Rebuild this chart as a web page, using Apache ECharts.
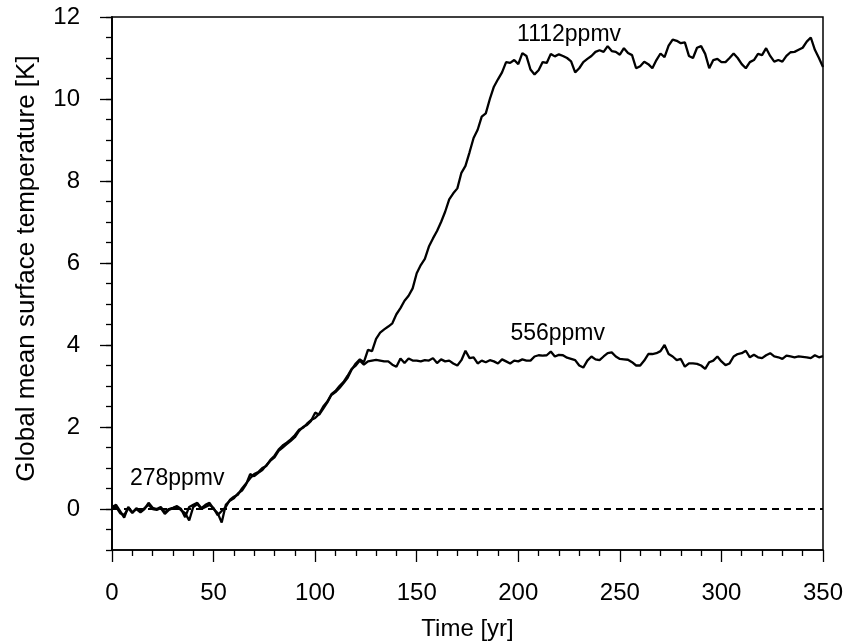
<!DOCTYPE html>
<html>
<head>
<meta charset="utf-8">
<script src="https://cdn.jsdelivr.net/npm/echarts@6/dist/echarts.min.js"></script>
<style>
html,body{margin:0;padding:0;background:#fff;}
#chart{width:846px;height:641px;}
</style>
</head>
<body>
<div id="chart"></div>
<script>
// ---- data (years every 2 yr, 0..350) ----
const yearStep = 2;
const temp1112 = [
 0.05, 0.1, -0.05, -0.21, 0.05, -0.08, 0.0, -0.08, 0.0, 0.15,
 0.03, 0.0, 0.05, -0.08, 0.0, 0.03, 0.07, 0.0, -0.2, 0.05,
 0.1, 0.15, 0.02, 0.1, 0.15, 0.0, -0.1, -0.33, 0.1, 0.2,
 0.26, 0.38, 0.45, 0.6, 0.85, 0.8, 0.88, 0.95, 1.07, 1.18,
 1.26, 1.42, 1.5, 1.58, 1.66, 1.75, 1.9, 2.0, 2.05, 2.15,
 2.35, 2.3, 2.45, 2.6, 2.78, 2.85, 2.95, 3.07, 3.2, 3.4,
 3.55, 3.65, 3.58, 3.88, 3.85, 4.15, 4.3, 4.38, 4.45, 4.53,
 4.75, 4.9, 5.08, 5.2, 5.38, 5.75, 5.95, 6.1, 6.4, 6.6,
 6.78, 7.0, 7.25, 7.55, 7.7, 7.82, 8.2, 8.37, 8.7, 9.05,
 9.25, 9.57, 9.65, 10.0, 10.3, 10.48, 10.65, 10.9, 10.88, 10.95,
 10.85, 11.12, 11.05, 10.72, 10.6, 10.7, 10.9, 10.88, 11.1, 11.04,
 11.09, 11.05, 11.0, 10.92, 10.65, 10.75, 10.9, 10.98, 11.05, 11.15,
 11.19, 11.15, 11.29, 11.17, 11.15, 11.08, 11.24, 11.12, 11.07, 10.75,
 10.8, 10.91, 10.85, 10.75, 10.95, 11.11, 11.02, 11.3, 11.45, 11.42,
 11.36, 11.38, 11.05, 11.0, 11.25, 11.29, 11.1, 10.75, 10.95, 10.98,
 10.9, 10.9, 11.0, 11.11, 11.0, 10.85, 10.75, 10.9, 10.95, 11.1,
 11.07, 11.24, 11.05, 10.91, 10.95, 10.91, 11.05, 11.14, 11.15, 11.2,
 11.25, 11.4, 11.5, 11.2, 11.0, 10.78
];
const temp556 = [
 0.03, 0.05, -0.1, -0.15, 0.02, -0.1, 0.02, -0.05, 0.02, 0.1,
 0.0, -0.02, 0.02, -0.12, -0.02, 0.02, 0.05, -0.03, -0.1, -0.28,
 0.05, 0.12, 0.0, 0.05, 0.1, 0.02, -0.15, -0.05, 0.05, 0.22,
 0.3, 0.35, 0.5, 0.62, 0.75, 0.85, 0.9, 1.0, 1.05, 1.2,
 1.3, 1.45, 1.55, 1.62, 1.7, 1.8, 1.93, 1.98, 2.08, 2.17,
 2.22, 2.32, 2.5, 2.62, 2.8, 2.88, 3.0, 3.1, 3.25, 3.42,
 3.5, 3.62, 3.52, 3.6, 3.62, 3.64, 3.62, 3.6, 3.6, 3.52,
 3.47, 3.67, 3.56, 3.67, 3.62, 3.62, 3.6, 3.63, 3.62, 3.68,
 3.56, 3.65, 3.6, 3.62, 3.55, 3.5, 3.63, 3.86, 3.68, 3.7,
 3.55, 3.62, 3.58, 3.63, 3.6, 3.55, 3.65, 3.6, 3.55, 3.62,
 3.6, 3.65, 3.62, 3.62, 3.72, 3.75, 3.74, 3.75, 3.84, 3.72,
 3.76, 3.75, 3.69, 3.66, 3.63, 3.5, 3.45, 3.62, 3.72, 3.65,
 3.63, 3.72, 3.8, 3.82, 3.72, 3.66, 3.65, 3.64, 3.58, 3.5,
 3.5, 3.62, 3.78, 3.78, 3.8, 3.85, 4.0, 3.78, 3.72, 3.63,
 3.66, 3.47, 3.55, 3.55, 3.54, 3.5, 3.42, 3.58, 3.62, 3.72,
 3.6, 3.51, 3.55, 3.72, 3.78, 3.8, 3.86, 3.7, 3.76, 3.7,
 3.68, 3.75, 3.8, 3.72, 3.7, 3.66, 3.74, 3.72, 3.7, 3.72,
 3.71, 3.7, 3.68, 3.75, 3.7, 3.73
];
const controlLevel = 0;           // 278 ppmv reference (dashed)
const seriesNames = ['1112ppmv', '556ppmv', '278ppmv'];
const xTickLabels = [0, 50, 100, 150, 200, 250, 300, 350];
const yTickLabels = [0, 2, 4, 6, 8, 10, 12];

// ---- build ----
const years = temp1112.map((_, i) => i * yearStep);
const d1112 = years.map((y, i) => [y, temp1112[i]]);
const d556 = years.map((y, i) => [y, temp556[i]]);

const FONT = '"Liberation Sans", Arial, Helvetica, sans-serif';
const chart = echarts.init(document.getElementById('chart'), null, {renderer: 'canvas'});

const lineStyle = {color: '#000', width: 2.3};
const option = {
  animation: false,
  backgroundColor: '#fff',
  textStyle: {fontFamily: FONT, color: '#000'},
  grid: {left: 112, right: 23, top: 17, bottom: 91, show: true, containLabel: false,
         outerBoundsMode: 'none',
         borderColor: '#000', borderWidth: 1.5, backgroundColor: 'transparent'},
  xAxis: {
    type: 'value', min: 0, max: 350, interval: 50,
    name: 'Time [yr]', nameLocation: 'middle', nameGap: 67,
    nameTextStyle: {fontSize: 24, color: '#000', fontFamily: FONT},
    axisLine: {show: true, onZero: false, lineStyle: {color: '#000', width: 1.5}},
    axisTick: {show: true, inside: false, length: 12, lineStyle: {color: '#000', width: 1.3}},
    minorTick: {show: true, splitNumber: 5, length: 6, lineStyle: {color: '#000', width: 1.3}},
    axisLabel: {fontSize: 24, color: '#000', margin: 31, fontFamily: FONT,
                customValues: xTickLabels},
    splitLine: {show: false}, minorSplitLine: {show: false}
  },
  yAxis: [{
    type: 'value', min: -1, max: 12, interval: 1, position: 'left', offset: 0,
    name: 'Global mean surface temperature [K]', nameLocation: 'middle', nameGap: 72,
    nameTextStyle: {fontSize: 26, color: '#000', fontFamily: FONT, padding: [0, 0, 0, 30]},
    axisLine: {show: true, onZero: false, lineStyle: {color: '#000', width: 1.5}},
    axisTick: {show: true, inside: false, length: 12, customValues: yTickLabels,
               lineStyle: {color: '#000', width: 1.3}},
    axisLabel: {fontSize: 24, color: '#000', margin: 32, fontFamily: FONT,
                customValues: yTickLabels},
    splitLine: {show: false}
  }, {
    type: 'value', min: -1, max: 12, interval: 0.5, position: 'left', offset: 0,
    axisLine: {show: true, onZero: false, lineStyle: {color: '#000', width: 1.5}},
    axisTick: {show: true, inside: false, length: 6, lineStyle: {color: '#000', width: 1.3}},
    axisLabel: {show: false},
    splitLine: {show: false}
  }],
  series: [
    {name: seriesNames[0], type: 'line', data: d1112, showSymbol: false, symbol: 'none',
     lineStyle: lineStyle, z: 3,
     markLine: {silent: true, symbol: 'none', label: {show: false},
                lineStyle: {color: '#000', width: 2, type: [7, 5]},
                data: [{yAxis: controlLevel}]}},
    {name: seriesNames[1], type: 'line', data: d556, showSymbol: false, symbol: 'none',
     lineStyle: lineStyle, z: 3},
    {name: 'labels', type: 'scatter', symbolSize: 0, silent: true, z: 5,
     itemStyle: {opacity: 1},
     label: {show: true, position: 'inside', fontSize: 23, color: '#000', opacity: 1,
             fontFamily: FONT, formatter: p => p.data.name},
     data: [
       {name: seriesNames[0], value: [225, 11.56]},
       {name: seriesNames[1], value: [219.4, 4.27]},
       {name: seriesNames[2], value: [32.1, 0.75]}
     ]}
  ]
};
chart.setOption(option);
</script>
</body>
</html>
